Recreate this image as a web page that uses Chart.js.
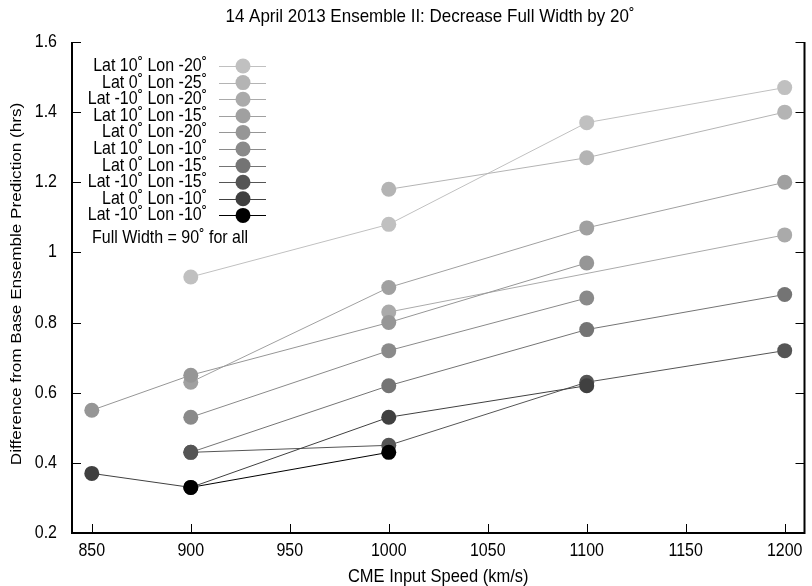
<!DOCTYPE html>
<html>
<head>
<meta charset="utf-8">
<script src="https://cdn.jsdelivr.net/npm/chart.js@4.4.1/dist/chart.umd.min.js"></script>
<style>
  html, body { margin: 0; padding: 0; background: #fff; }
  #wrap { width: 812px; height: 586px; }
</style>
</head>
<body>
<div id="wrap"><canvas id="grafico" width="812" height="586"></canvas></div>
<script>
// velocidade de entrada (km/s)
const velocidades = [850, 900, 1000, 1100, 1200];

// diferença em relação à previsão base (horas), null = sem rodada
const lat10lon20  = [null, 0.93, 1.08, 1.37, 1.47];
const lat0lon25   = [null, null, 1.18, 1.27, 1.40];
const latm10lon20 = [null, null, 0.83, null, 1.05];
const lat10lon15  = [null, 0.63, 0.90, 1.07, 1.20];
const lat0lon20   = [0.55, 0.65, 0.80, 0.97, null];
const lat10lon10  = [null, 0.53, 0.72, 0.87, null];
const lat0lon15   = [null, 0.43, 0.62, 0.78, 0.88];
const latm10lon15 = [null, 0.43, 0.45, 0.63, 0.72];
const lat0lon10   = [0.37, 0.33, 0.53, 0.62, null];
const latm10lon10 = [null, 0.33, 0.43, null, null];

const series = [lat10lon20, lat0lon25, latm10lon20, lat10lon15, lat0lon20,
                lat10lon10, lat0lon15, latm10lon15, lat0lon10, latm10lon10];

const rotulos = [
  'Lat 10˚ Lon -20˚', 'Lat 0˚ Lon -25˚', 'Lat -10˚ Lon -20˚', 'Lat 10˚ Lon -15˚',
  'Lat 0˚ Lon -20˚', 'Lat 10˚ Lon -10˚', 'Lat 0˚ Lon -15˚', 'Lat -10˚ Lon -15˚',
  'Lat 0˚ Lon -10˚', 'Lat -10˚ Lon -10˚'
];

const cores = ['#c0c0c0', '#b4b4b4', '#aaaaaa', '#a0a0a0', '#969696',
               '#8a8a8a', '#747474', '#555555', '#404040', '#000000'];

const yTicks = [0.2, 0.4, 0.6, 0.8, 1.0, 1.2, 1.4, 1.6];
const xTicks = [850, 900, 950, 1000, 1050, 1100, 1150, 1200];

const titulo = '14 April 2013 Ensemble II: Decrease Full Width by 20˚';
const tituloX = 'CME Input Speed (km/s)';
const tituloY = 'Difference from Base Ensemble Prediction (hrs)';
const nota = 'Full Width = 90˚ for all';

const FONTE = '"Liberation Sans", Arial, Helvetica, sans-serif';
const ESTICA = 1.12; // letras um pouco mais altas que largas

const datasets = series.map((vals, i) => {
  const pontos = [];
  vals.forEach((v, j) => {
    if (v !== null) pontos.push({ x: velocidades[j], y: v });
  });
  return {
    label: rotulos[i],
    data: pontos,
    borderColor: cores[i],
    backgroundColor: cores[i],
    pointBackgroundColor: cores[i],
    pointBorderWidth: 0,
    pointRadius: 7.5,
    pointHoverRadius: 7.5,
    borderWidth: 1,
    tension: 0,
    order: series.length - 1 - i
  };
});

function texto(ctx, str, x, y, align, size, girar) {
  ctx.save();
  ctx.translate(x, y);
  if (girar) {
    ctx.rotate(-Math.PI / 2);
    ctx.scale(ESTICA, 1);
  } else {
    ctx.scale(1, ESTICA);
  }
  ctx.font = size + 'px ' + FONTE;
  ctx.fillStyle = '#000';
  ctx.textAlign = align;
  ctx.textBaseline = 'middle';
  ctx.fillText(str, 0, 0);
  ctx.restore();
}

// moldura, marcas dos eixos, rótulos, títulos e legenda
const moldura = {
  id: 'moldura',
  afterDraw(chart) {
    const ctx = chart.ctx;
    const a = chart.chartArea;
    const sx = chart.scales.x;
    const sy = chart.scales.y;
    ctx.save();

    ctx.strokeStyle = '#000';
    ctx.lineWidth = 1;
    ctx.beginPath();
    xTicks.forEach(v => {
      const px = Math.round(sx.getPixelForValue(v)) + 0.5;
      ctx.moveTo(px, a.bottom);
      ctx.lineTo(px, a.bottom - 9);
    });
    yTicks.forEach(v => {
      const py = Math.round(sy.getPixelForValue(v)) + 0.5;
      ctx.moveTo(a.left, py);
      ctx.lineTo(a.left + 9, py);
      ctx.moveTo(a.right, py);
      ctx.lineTo(a.right - 9, py);
    });
    ctx.stroke();

    ctx.lineWidth = 2;
    ctx.beginPath();
    ctx.moveTo(a.left, a.top);
    ctx.lineTo(a.left, a.bottom);
    ctx.lineTo(a.right, a.bottom);
    ctx.lineTo(a.right, a.top);
    ctx.stroke();

    xTicks.forEach(v => {
      texto(ctx, String(v), sx.getPixelForValue(v), 551, 'center', 16);
    });
    yTicks.forEach(v => {
      texto(ctx, String(+v.toFixed(2)), 57, sy.getPixelForValue(v), 'right', 16);
    });

    texto(ctx, titulo, 430, 17, 'center', 17);
    texto(ctx, tituloX, (a.left + a.right) / 2, 577, 'center', 16.5);
    texto(ctx, tituloY, 17, 284, 'center', 15.3, true);

    // legenda
    chart.data.datasets.forEach((ds, i) => {
      const y = 66 + 16.6 * i;
      texto(ctx, ds.label, 207, y, 'right', 16);
      ctx.strokeStyle = ds.borderColor;
      ctx.lineWidth = 1;
      ctx.beginPath();
      ctx.moveTo(219, Math.round(y) + 0.5);
      ctx.lineTo(266, Math.round(y) + 0.5);
      ctx.stroke();
      ctx.fillStyle = ds.borderColor;
      ctx.beginPath();
      ctx.arc(243, y, 7.5, 0, Math.PI * 2);
      ctx.fill();
    });
    texto(ctx, nota, 92, 238, 'left', 16);

    ctx.restore();
  }
};

new Chart(document.getElementById('grafico'), {
  type: 'line',
  data: { datasets: datasets },
  options: {
    responsive: false,
    animation: false,
    layout: { padding: { left: 0, top: 42, right: 3, bottom: 0 } },
    plugins: {
      legend: { display: false },
      title: { display: false },
      tooltip: { enabled: false }
    },
    scales: {
      x: {
        type: 'linear',
        min: 840,
        max: 1210,
        grid: { display: false, drawTicks: false },
        border: { display: false },
        afterFit: s => { s.height = 53; },
        afterBuildTicks: s => { s.ticks = xTicks.map(v => ({ value: v })); },
        ticks: { display: false }
      },
      y: {
        type: 'linear',
        min: 0.2,
        max: 1.6,
        grid: { display: false, drawTicks: false },
        border: { display: false },
        afterFit: s => { s.width = 72; },
        afterBuildTicks: s => { s.ticks = yTicks.map(v => ({ value: v })); },
        ticks: { display: false }
      }
    }
  },
  plugins: [moldura]
});
</script>
</body>
</html>
